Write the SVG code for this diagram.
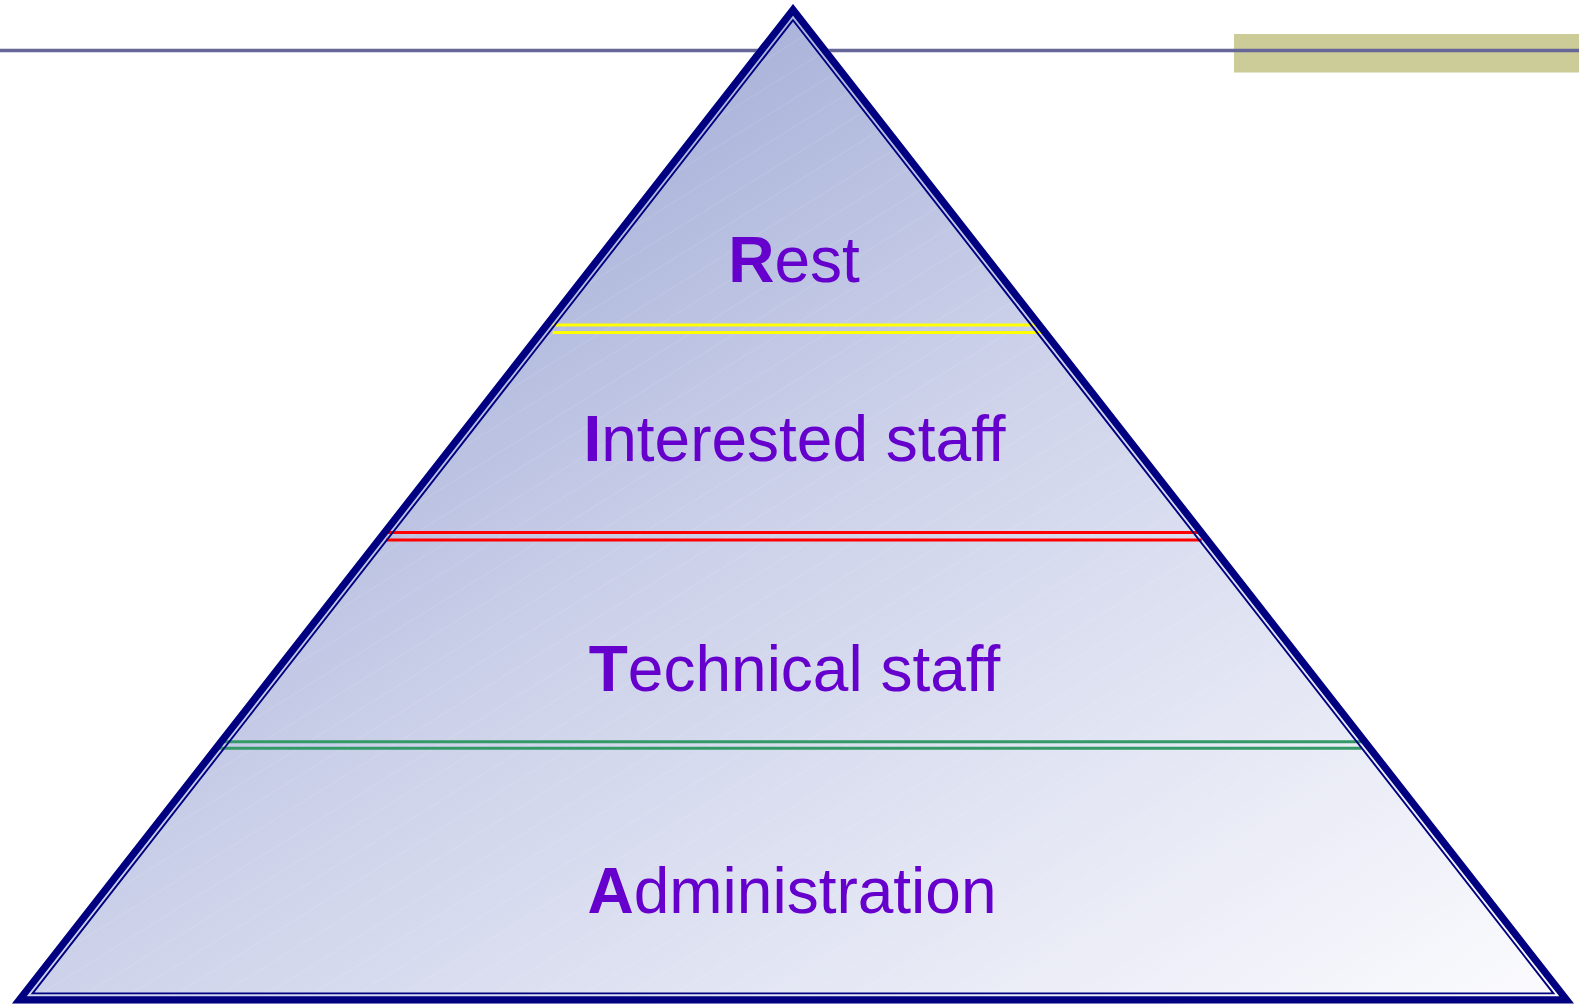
<svg xmlns="http://www.w3.org/2000/svg" width="1579" height="1004" viewBox="0 0 1579 1004">
  <defs>
    <style>
      .rule { stroke: #666699; stroke-width: 3.5; fill: none; }
      .band { fill: none; stroke: #000080; stroke-linejoin: miter; }
      .tier { font-family: "Liberation Sans", Arial, sans-serif; font-size: 64px; fill: #6600CC; text-anchor: middle; }
      .tier .cap { font-weight: bold; }
      .sep { stroke-width: 3.1; fill: none; }
    </style>
    <linearGradient id="pyramidFill" x1="0" y1="0" x2="1" y2="1">
      <stop offset="0" stop-color="#9AA4D2"/>
      <stop offset="0.25" stop-color="#AAB3DA"/>
      <stop offset="0.5" stop-color="#CDD2EA"/>
      <stop offset="1" stop-color="#FCFCFE"/>
    </linearGradient>
    <pattern id="sheen" patternUnits="userSpaceOnUse" width="40" height="24" patternTransform="rotate(-32)">
      <rect x="0" y="0" width="40" height="1" fill="#FFFFFF" fill-opacity="0.1"/>
    </pattern>
  </defs>

  <!-- header rule and accent bar -->
  <g id="header">
    <rect x="1234" y="34" width="345" height="38.5" fill="#CCCC99"/>
    <line class="rule" x1="0" y1="50.5" x2="1579" y2="50.5"/>
  </g>

  <!-- pyramid body -->
  <g id="pyramid">
    <polygon points="793,4 12,1003.5 1574,1003.5" fill="url(#pyramidFill)"/>
    <polygon points="793,4 12,1003.5 1574,1003.5" fill="url(#sheen)"/>
  </g>

  <!-- tier dividers (double lines) -->
  <g id="dividers">
    <g id="divider-yellow" stroke="#FFFF00">
      <line class="sep" x1="552.7" y1="325" x2="1041.7" y2="325"/>
      <line class="sep" x1="552.7" y1="332.5" x2="1041.7" y2="332.5"/>
    </g>
    <g id="divider-red" stroke="#FF0000">
      <line class="sep" x1="386" y1="532.5" x2="1201.7" y2="532.5"/>
      <line class="sep" x1="386" y1="540" x2="1201.7" y2="540"/>
    </g>
    <g id="divider-green" stroke="#339966">
      <line class="sep" x1="219" y1="741.7" x2="1361.7" y2="741.7"/>
      <line class="sep" x1="219" y1="748.3" x2="1361.7" y2="748.3"/>
    </g>
  </g>

  <!-- thick-thin outline -->
  <g id="outline">
    <polygon class="band" stroke-width="7.2" points="793,9.85 19.38,999.9 1566.62,999.9"/>
    <polygon class="band" stroke-width="1.9" points="793,20.2 32.6,993.4 1553.4,993.4"/>
  </g>

  <!-- tier labels -->
  <g id="tier-rest"><text class="tier" x="794" y="282"><tspan class="cap">R</tspan>est</text></g>
  <g id="tier-interested"><text class="tier" x="794.5" y="461"><tspan class="cap">I</tspan>nterested staff</text></g>
  <g id="tier-technical"><text class="tier" x="794.5" y="691"><tspan class="cap">T</tspan>echnical staff</text></g>
  <g id="tier-administration"><text class="tier" x="792" y="913"><tspan class="cap">A</tspan>dministration</text></g>
</svg>
